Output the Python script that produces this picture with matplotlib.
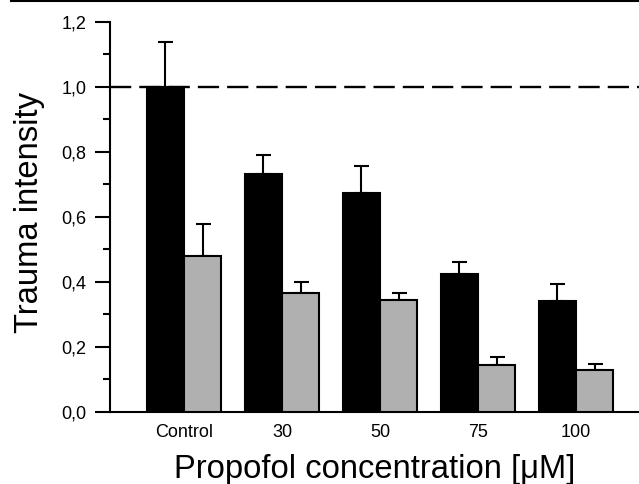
import numpy as np
import matplotlib
matplotlib.use('Agg')
import matplotlib.pyplot as plt
from matplotlib.ticker import MultipleLocator, FuncFormatter
from matplotlib.lines import Line2D

plt.rcParams['font.family'] = ['Liberation Sans', 'DejaVu Sans']

# data
groups = ['Control', '30', '50', '75', '100']
black_vals = [1.0, 0.733, 0.673, 0.425, 0.341]
black_err = [0.137, 0.058, 0.083, 0.036, 0.051]
gray_vals = [0.479, 0.367, 0.345, 0.144, 0.128]
gray_err = [0.098, 0.033, 0.021, 0.025, 0.018]

fig = plt.figure(figsize=(6.39, 4.84), dpi=100)
ax = fig.add_axes([0.1721, 0.1488, 0.8279, 0.8064])

x = np.arange(len(groups))
w = 0.38

ax.axhline(1.0, color='black', lw=1.7, dashes=(9, 3.4), zorder=1)

ax.bar(x - w, black_vals, width=w, align='edge', color='black',
       edgecolor='black', linewidth=1.5, zorder=3,
       yerr=[np.zeros(5), black_err], capsize=5.4,
       error_kw=dict(elinewidth=1.5, capthick=1.5, ecolor='black', zorder=2))
ax.bar(x, gray_vals, width=w, align='edge', color='#b0b0b0',
       edgecolor='black', linewidth=1.5, zorder=3,
       yerr=[np.zeros(5), gray_err], capsize=5.4,
       error_kw=dict(elinewidth=1.5, capthick=1.5, ecolor='black', zorder=2))

ax.set_xlim(-0.755, 4.643)
ax.set_ylim(0, 1.2)
ax.set_xticks(x)
ax.set_xticklabels(groups)
ax.yaxis.set_major_locator(MultipleLocator(0.2))
ax.yaxis.set_minor_locator(MultipleLocator(0.1))
ax.yaxis.set_major_formatter(FuncFormatter(lambda v, p: ('%.1f' % v).replace('.', ',')))

ax.tick_params(axis='y', which='major', length=10.5, width=1.5, labelsize=13, pad=6.5)
ax.tick_params(axis='y', which='minor', length=5.2, width=1.5)
ax.tick_params(axis='x', length=0, labelsize=13, pad=8.5)

for s in ['top', 'right']:
    ax.spines[s].set_visible(False)
ax.spines['left'].set_linewidth(1.5)
ax.spines['bottom'].set_linewidth(1.5)

ax.set_ylabel('Trauma intensity', fontsize=23.6)
ax.set_xlabel('Propofol concentration [μM]', fontsize=23.6)
ax.yaxis.set_label_coords(-0.122, 0.51)
ax.xaxis.set_label_coords(0.5, -0.108)

fig.add_artist(Line2D([11 / 639, 1], [1 - 1 / 484, 1 - 1 / 484], color='black', lw=1.5))

fig.savefig('out.png', dpi=100)
